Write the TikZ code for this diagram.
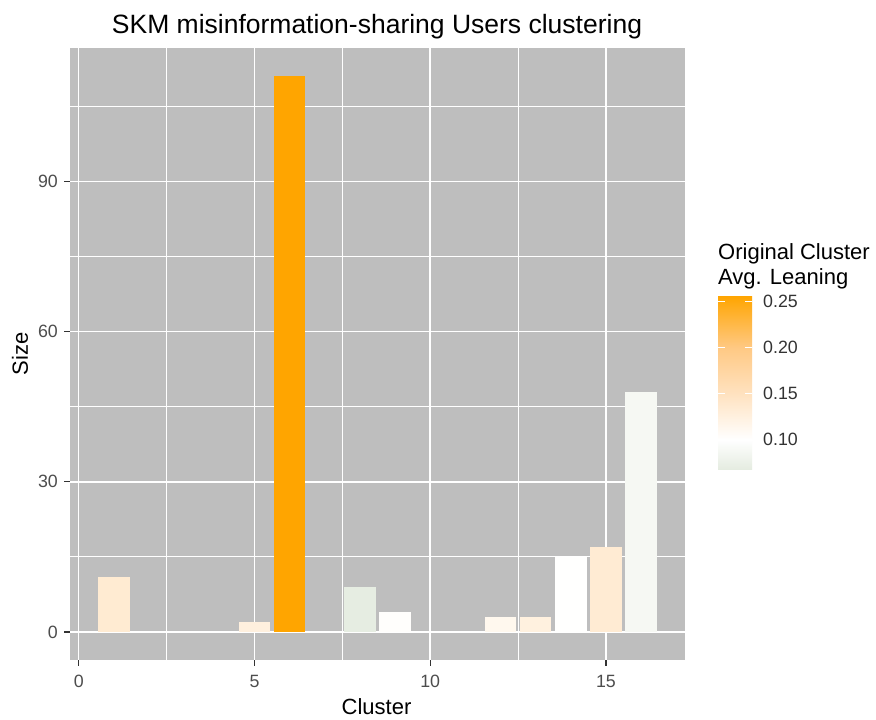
\documentclass[tikz,border=0pt]{standalone}
\usepackage{fontspec}
\setmainfont{Liberation Sans}
\definecolor{panelbg}{HTML}{BEBEBE}
\definecolor{ticktxt}{HTML}{4D4D4D}
\definecolor{tickln}{HTML}{333333}
\definecolor{lowc}{HTML}{E5ECE1}
\definecolor{cA}{HTML}{FFE2C0}
\definecolor{cB}{HTML}{FFC984}
\definecolor{topc}{HTML}{FFA500}
\definecolor{b1}{HTML}{FFEBD2}
\definecolor{b5}{HTML}{FFF0DE}
\definecolor{b6}{HTML}{FFA500}
\definecolor{b8}{HTML}{E6EDE2}
\definecolor{b9}{HTML}{FFFEFC}
\definecolor{b12}{HTML}{FFF8EE}
\definecolor{b13}{HTML}{FFF1DF}
\definecolor{b14}{HTML}{FFFFFE}
\definecolor{b15}{HTML}{FFEBD3}
\definecolor{b16}{HTML}{F6F8F3}
\pgfdeclareverticalshading{leanbar}{100bp}{color(0bp)=(lowc); color(25bp)=(lowc); color(33.5bp)=(white); color(46.7bp)=(cA); color(60bp)=(cB); color(75bp)=(topc); color(100bp)=(topc)}
\begin{document}
\begin{tikzpicture}[x=1pt,y=-1pt,
  majorgrid/.style={white,line width=1.5pt},
  minorgrid/.style={white,line width=1pt},
  barbox/.style={fill=#1,draw=none},
  ticklab/.style={text=ticktxt,font=\fontsize{17.8}{20}\selectfont,inner sep=0pt},
  axtitle/.style={font=\fontsize{22}{26}\selectfont,inner sep=0pt},
  tickmark/.style={tickln,line width=1.3pt},
  legtick/.style={white,line width=1.2pt}]
\useasboundingbox (0,0) rectangle (876,720);
\fill[white] (0,0) rectangle (876,720);
% panel
\fill[panelbg] (70,48) rectangle (685,660);
% minor grid
\foreach \v in {15,45,75,105} \draw[minorgrid] (70,{632-5.007*\v}) -- (685,{632-5.007*\v});
\foreach \c in {2.5,7.5,12.5} \draw[minorgrid] ({78.7+35.15*\c},48) -- ({78.7+35.15*\c},660);
% major grid
\foreach \v in {0,30,60,90} \draw[majorgrid] (70,{632-5.007*\v}) -- (685,{632-5.007*\v});
\foreach \c in {0,5,10,15} \draw[majorgrid] ({78.7+35.15*\c},48) -- ({78.7+35.15*\c},660);
% bars
\foreach \c/\v/\col in {1/11/b1,5/2/b5,6/111/b6,8/9/b8,9/4/b9,12/3/b12,13/3/b13,14/15/b14,15/17/b15,16/48/b16}
  \fill[barbox=\col] ({78.7+35.15*(\c-0.45)},632) rectangle ({78.7+35.15*(\c+0.45)},{632-5.007*\v});
% y axis ticks and labels
\foreach \v in {0,30,60,90} {
  \draw[tickmark] (64,{632-5.007*\v}) -- (70,{632-5.007*\v});
  \node[ticklab,anchor=east] (yl\v) at (58,{632-5.007*\v}) {\v};
}
% x axis ticks and labels
\foreach \c in {0,5,10,15} {
  \draw[tickmark] ({78.7+35.15*\c},660) -- ({78.7+35.15*\c},665.5);
  \node[ticklab,anchor=north] (xl\c) at ({78.7+35.15*\c},675) {\c};
}
% titles
\node[font=\fontsize{26.5}{30}\selectfont,inner sep=0pt,anchor=base] (title) at (377,34) {SKM misinformation-sharing Users clustering};
\node[axtitle,anchor=base] (xtitle) at (376.5,714) {Cluster};
\node[axtitle,rotate=90,anchor=center] (ytitle) at (20,354) {Size};
% legend
\node[axtitle,anchor=base west] (lt1) at (718,259.3) {Original Cluster};
\node[axtitle,anchor=base west] (lt2) at (718,284) {Avg. Leaning};
\shade[shading=leanbar] (718,296) rectangle (752,469);
\foreach \y/\t in {301.5/0.25,347.5/0.20,393.5/0.15,439.5/0.10} {
  \draw[legtick] (718,\y) -- (724.8,\y);
  \draw[legtick] (745.2,\y) -- (752,\y);
  \node[ticklab,anchor=west,text=black!80] (ll\t) at (763,\y) {\t};
}
\end{tikzpicture}
\end{document}
